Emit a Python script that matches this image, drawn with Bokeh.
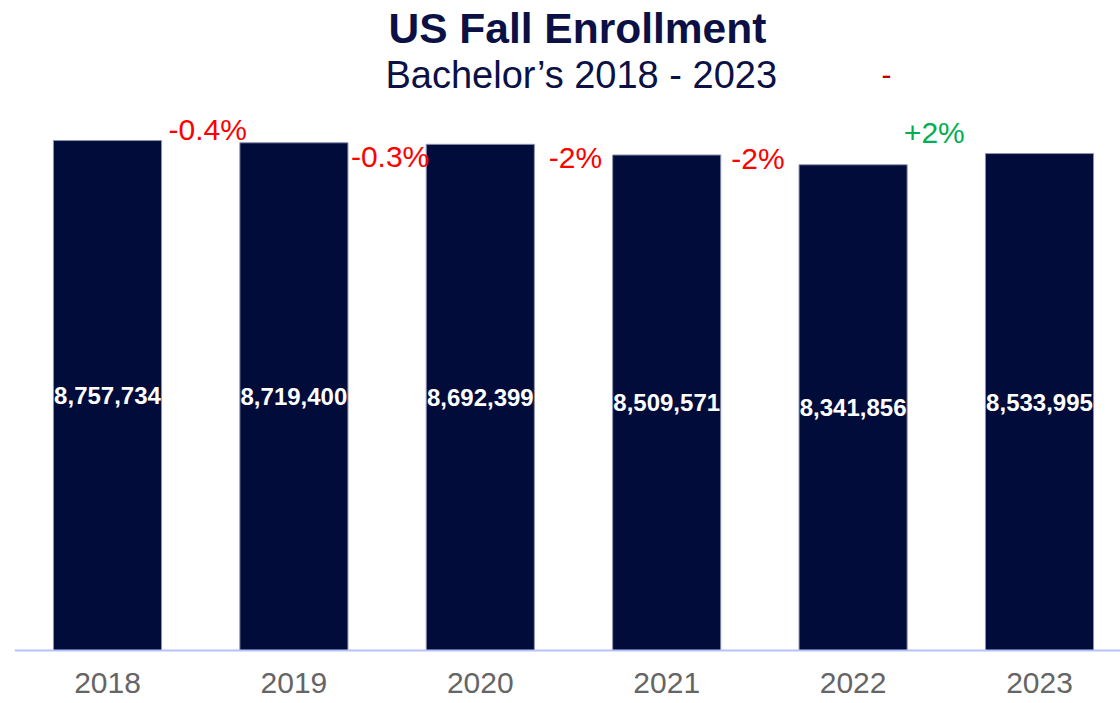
from bokeh.plotting import figure
from bokeh.models import ColumnDataSource, FixedTicker, Label, Range1d
from bokeh.core.properties import value
from bokeh.embed import file_html
from bokeh.resources import INLINE

# ---- data ----
years = [2018, 2019, 2020, 2021, 2022, 2023]
enrollment = [8757734, 8719400, 8692399, 8509571, 8341856, 8533995]
change_labels = ["-0.4%", "-0.3%", "-2%", "-2%", "+2%"]
change_colors = ["#FF0000", "#FF0000", "#FF0000", "#FF0000", "#00B050"]
tick_labels = ["2018", "2019", "2020", "2021", "2022", "2023"]
title_text = "US Fall Enrollment"
subtitle_text = "Bachelor\u2019s 2018 - 2023"

# ---- styling / layout ----
FONT = "Liberation Sans"
NAVY = "#020C3B"
TITLE_NAVY = "#0B1045"
W, H = 1120, 703
PX = 5.823e-5            # pixels per enrolled student
PX_PER_YEAR = 186.4
LEFT = 14
ZERO_PX_FROM_BOTTOM = 53
y_start = -ZERO_PX_FROM_BOTTOM / PX
y_end = y_start + H / PX
x_start = 2018 - 93 / PX_PER_YEAR
x_end = x_start + (W - LEFT) / PX_PER_YEAR


def sx(px):
    return x_start + (px - LEFT) / PX_PER_YEAR


def sy(py):
    return y_start + (H - py) / PX


p = figure(width=W, height=H, output_backend="svg", toolbar_location=None,
           x_range=Range1d(x_start, x_end), y_range=Range1d(y_start, y_end),
           min_border_left=LEFT, min_border_right=0, min_border_top=0,
           min_border_bottom=0, title=None)
p.outline_line_color = None
p.grid.visible = False
p.yaxis.visible = False
p.background_fill_color = "white"
p.border_fill_color = "white"

# titles
p.add_layout(Label(x=sx(388), y=sy(28), text=title_text, text_align="left",
                   text_baseline="middle", text_font=FONT, text_font_size="42.5px",
                   text_font_style="bold", text_color=TITLE_NAVY))
p.add_layout(Label(x=sx(385), y=sy(74), text=subtitle_text, text_align="left",
                   text_baseline="middle", text_font=FONT, text_font_size="38px",
                   text_color=TITLE_NAVY))
# stray dash next to the subtitle
p.add_layout(Label(x=sx(886), y=sy(74), text="-", text_align="center",
                   text_baseline="middle", text_font=FONT, text_font_size="30px",
                   text_color="#C00000"))

# bars
src = ColumnDataSource(dict(
    x=years, top=enrollment,
    mid=[v / 2 for v in enrollment],
    txt=[f"{v:,}" for v in enrollment],
))
p.vbar(x="x", top="top", bottom=0, width=0.58, source=src,
       fill_color=NAVY, line_color="#8C93B0", line_width=1)

p.text(x="x", y="mid", text="txt", source=src, text_align="center",
       text_baseline="middle", text_color="white", text_font=value(FONT),
       text_font_size="24px", text_font_style="bold")

# year-over-year change labels
chg = ColumnDataSource(dict(
    x=[(years[i] + years[i + 1]) / 2 for i in range(len(change_labels))],
    y=[enrollment[i + 1] for i in range(len(change_labels))],
    txt=change_labels,
    color=change_colors,
    dx=[7, 3, 2, -2, -12],
    dy=[-13, 12, 3, -6, -21],
))
p.text(x="x", y="y", text="txt", source=chg, x_offset="dx", y_offset="dy",
       text_align="center", text_baseline="alphabetic", text_color="color",
       text_font=value(FONT), text_font_size="30px")

# x axis at zero
ax = p.xaxis[0]
ax.fixed_location = 0
ax.ticker = FixedTicker(ticks=years)
ax.major_label_overrides = {y: t for y, t in zip(years, tick_labels)}
ax.axis_line_color = "#B8C2FA"
ax.axis_line_width = 2
ax.major_tick_line_color = None
ax.minor_tick_line_color = None
ax.major_tick_out = 0
ax.major_tick_in = 0
ax.major_label_standoff = 22
ax.major_label_text_font = FONT
ax.major_label_text_font_size = "30px"
ax.major_label_text_color = "#656565"

open("out.html", "w").write(file_html(p, INLINE))
